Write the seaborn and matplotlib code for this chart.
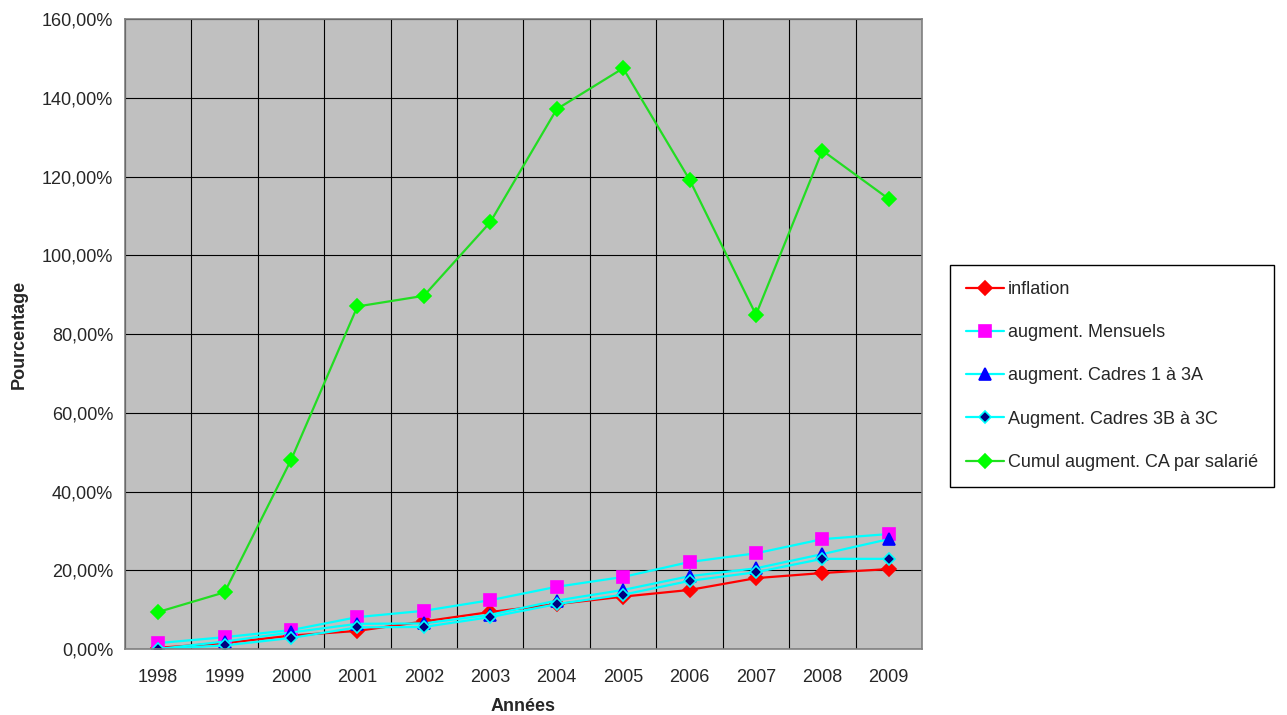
import matplotlib
matplotlib.use('Agg')
import matplotlib.pyplot as plt
import seaborn as sns
from matplotlib.ticker import FuncFormatter

# values (in %)
years = [1998, 1999, 2000, 2001, 2002, 2003, 2004, 2005, 2006, 2007, 2008, 2009]
inflation = [0.3, 1.5, 3.4, 4.6, 7.0, 9.4, 11.4, 13.3, 15.0, 18.0, 19.3, 20.3]
mensuels = [1.5, 3.0, 4.8, 8.1, 9.7, 12.4, 15.8, 18.3, 22.1, 24.3, 27.9, 29.2]
cadres_1_3a = [0.0, 1.9, 4.2, 6.4, 6.5, 8.7, 12.3, 15.0, 18.5, 20.5, 24.1, 27.9]
cadres_3b_3c = [0.0, 0.9, 2.8, 5.5, 5.6, 8.1, 11.4, 13.8, 17.3, 19.5, 22.9, 22.9]
cumul_ca = [9.4, 14.4, 48.0, 87.0, 89.7, 108.4, 137.1, 147.5, 119.2, 84.9, 126.6, 114.3]

sns.set_style('white')
plt.rcParams['font.family'] = ['Liberation Sans', 'DejaVu Sans']
plt.rcParams['font.size'] = 13

fig = plt.figure(figsize=(12.87, 7.15), dpi=100)
ax = fig.add_axes([0.0971, 0.0923, 0.6193, 0.8811])
ax.set_facecolor('#C0C0C0')

series = [
    ('inflation', inflation, 'red', 'D', 'red', 'red', 7),
    ('augment. Mensuels', mensuels, 'cyan', 's', 'magenta', 'magenta', 9),
    ('augment. Cadres 1 à 3A', cadres_1_3a, 'cyan', '^', 'blue', 'blue', 8),
    ('Augment. Cadres 3B à 3C', cadres_3b_3c, 'cyan', 'D', '#000080', 'cyan', 6.5),
    ('Cumul augment. CA par salarié', cumul_ca, '#22DD22', 'D', '#00FF00', '#00FF00', 7),
]
for label, vals, lc, mk, mfc, mec, ms in series:
    sns.lineplot(x=years, y=vals, ax=ax, color=lc, linewidth=1.6, marker=mk,
                 markersize=ms, markerfacecolor=mfc, markeredgecolor=mec,
                 markeredgewidth=1.2, label=label)

ax.set_xlim(years[0] - 0.5, years[-1] + 0.5)
ax.set_ylim(0, 160)
ax.set_xticks(years)
ax.set_xticks([y - 0.5 for y in years] + [years[-1] + 0.5], minor=True)
ax.set_yticks(range(0, 161, 20))
ax.yaxis.set_major_formatter(FuncFormatter(lambda v, p: f'{v:.2f}%'.replace('.', ',')))

ax.tick_params(axis='x', which='major', length=0, pad=14.5, labelsize=13)
ax.tick_params(axis='x', which='minor', length=5, width=1, direction='out', color='black')
ax.tick_params(axis='y', which='major', length=5, width=1, direction='out', color='black', labelsize=13)

ax.grid(False)
ax.grid(True, which='minor', axis='x', color='black', linewidth=0.8)
ax.grid(True, which='major', axis='y', color='black', linewidth=0.8)
ax.set_axisbelow(True)

for s in ax.spines.values():
    s.set_color('#808080')
    s.set_linewidth(1.2)

ax.set_xlabel('Années', fontweight='bold', fontsize=13, labelpad=8.5)
ax.set_ylabel('Pourcentage', fontweight='bold', fontsize=13, labelpad=10)

leg = ax.legend(loc='center left', bbox_to_anchor=(941 / 1287, (715 - 376) / 715),
                bbox_transform=fig.transFigure, frameon=True, fancybox=False,
                edgecolor='black', framealpha=1, labelspacing=1.45,
                handlelength=2.1, handletextpad=0.2, borderpad=0.9, fontsize=13)
leg.get_frame().set_linewidth(1)

plt.savefig('out.png', dpi=100)
plt.close()
